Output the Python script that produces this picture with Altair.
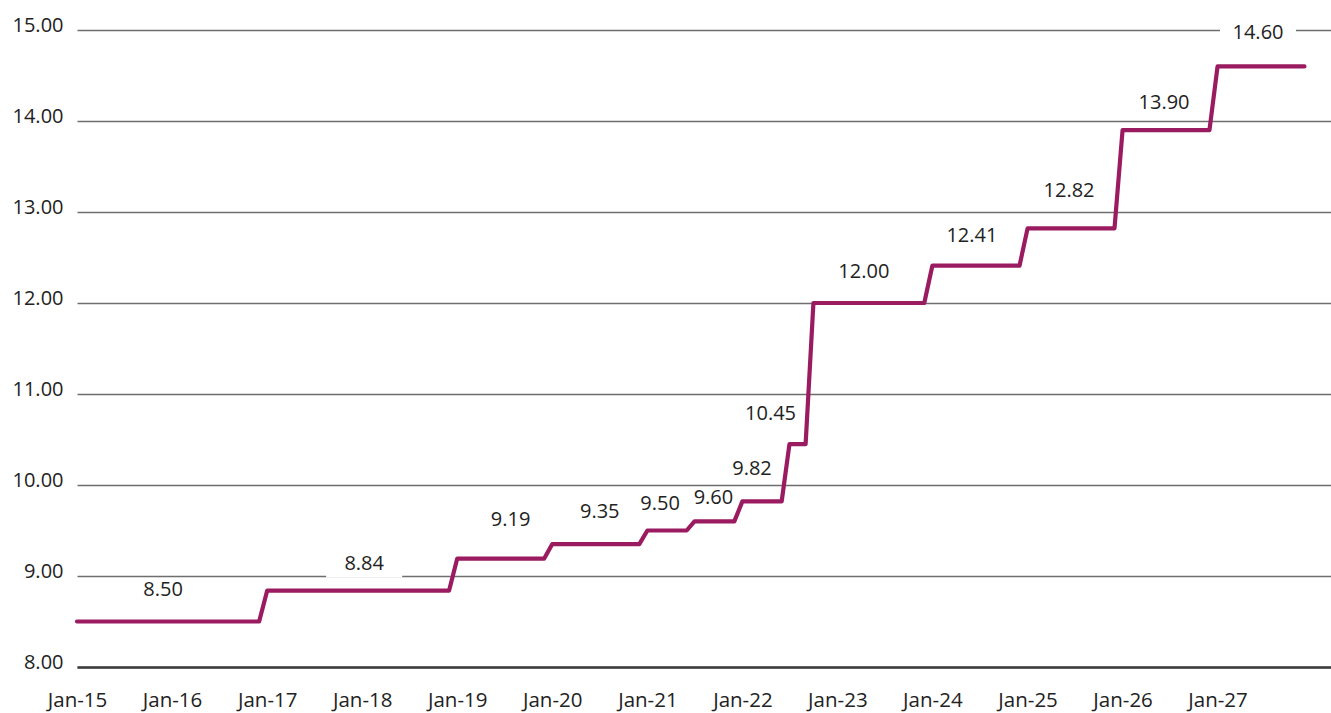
import altair as alt
import pandas as pd

# ---- data ----
change_months = ["2015-01", "2017-01", "2019-01", "2020-01", "2021-01", "2021-07",
                 "2022-01", "2022-07", "2022-10", "2024-01", "2025-01", "2026-01", "2027-01"]
rates = [8.50, 8.84, 9.19, 9.35, 9.50, 9.60, 9.82, 10.45, 12.00, 12.41, 12.82, 13.90, 14.60]
final_month = "2027-12"
year_ticks = list(range(2015, 2028))
y_ticks = [8, 9, 10, 11, 12, 13, 14, 15]

# ---- styling: label nudges (dx, dy in px from segment midpoint) ----
label_nudges = [(-5, -33), (6, -28), (10, -40), (4, -33), (-7, -28), (-1, -24), (-10, -33),
                (-27, -31), (-5, -32), (-4, -31), (-2, -38), (-2, -28), (-3, -34)]

LINE_COLOR = "#9B1B60"
TEXT_COLOR = "#222222"
FONT = "Open Sans"

starts = list(pd.to_datetime(change_months))
ends = [s - pd.DateOffset(months=1) for s in starts[1:]] + [pd.Timestamp(final_month)]

line_rows = []
for s, e, r in zip(starts, ends, rates):
    line_rows.append({"date": s, "rate": r})
    line_rows.append({"date": e, "rate": r})
line_df = pd.DataFrame(line_rows)

label_rows = []
for s, e, r, (dx, dy) in zip(starts, ends, rates, label_nudges):
    mid = s + (e - s) / 2
    box = f"M{dx-38},{dy-10}H{dx+38}V{dy+15}H{dx-38}Z"
    label_rows.append({"date": mid, "rate": r, "label": f"{r:.2f}", "box": box,
                       "dx": dx, "dy": dy})
label_df = pd.DataFrame(label_rows)

x_scale = alt.Scale(domain=[alt.DateTime(year=2015, month=1, date=1),
                            alt.DateTime(year=2028, month=3, date=12)])
y_scale = alt.Scale(domain=[8, 15], nice=False, zero=False)

x_axis = alt.Axis(values=[alt.DateTime(year=y, month=1, date=1) for y in year_ticks],
                  format="%b-%y", title=None, grid=False, ticks=False, tickSize=0,
                  domain=True, domainColor="#3a3a3a", domainWidth=2.5,
                  labelFont=FONT, labelFontSize=20.5, labelColor=TEXT_COLOR,
                  labelBaseline="alphabetic", labelPadding=39,
                  labelOverlap=False, labelFlush=False)
y_axis = alt.Axis(values=y_ticks, format=".2f", title=None, grid=True,
                  gridColor="#6e6e6e", gridWidth=1.3, domain=False, ticks=False,
                  tickSize=0, labelFont=FONT, labelFontSize=20, labelColor=TEXT_COLOR,
                  labelBaseline="alphabetic", labelOffset=1, labelPadding=14)

base_x = alt.X("date:T", scale=x_scale, axis=x_axis)
base_y = alt.Y("rate:Q", scale=y_scale, axis=y_axis)

boxes = alt.Chart(label_df).mark_point(filled=True, color="white", opacity=1,
                                       size=4, strokeWidth=0).encode(
    x=alt.X("date:T", scale=x_scale, axis=x_axis),
    y=alt.Y("rate:Q", scale=y_scale, axis=y_axis),
    shape=alt.Shape("box:N", scale=None),
)

line = alt.Chart(line_df).mark_line(color=LINE_COLOR, strokeWidth=4.2,
                                    strokeJoin="round", strokeCap="round").encode(
    x=base_x, y=base_y,
)

text_layers = []
for i, row in label_df.iterrows():
    one = label_df.iloc[[i]]
    t = alt.Chart(one).mark_text(font=FONT, fontSize=20, color=TEXT_COLOR,
                                 align="center", baseline="middle",
                                 dx=int(row["dx"]), dy=int(row["dy"]) + 1).encode(
        x=alt.X("date:T", scale=x_scale), y=alt.Y("rate:Q", scale=y_scale),
        text="label:N",
    )
    text_layers.append(t)

chart = alt.layer(boxes, line, *text_layers).properties(
    width=1254, height=637,
    autosize=alt.AutoSizeParams(type="none"),
    padding={"left": 77, "top": 30, "right": 0, "bottom": 46},
    background="white",
).configure_view(stroke=None)

chart.save("out.html", embed_options={"renderer": "svg", "actions": False})
